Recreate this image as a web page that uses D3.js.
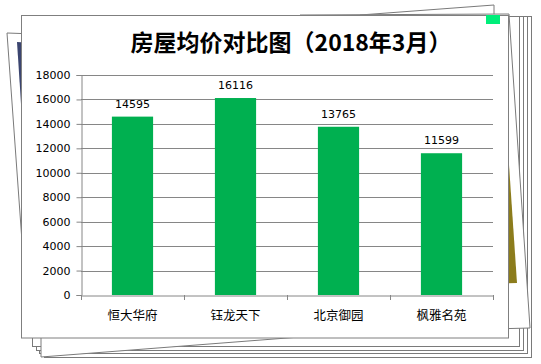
<!DOCTYPE html>
<html>
<head>
<meta charset="utf-8">
<script src="https://cdn.jsdelivr.net/npm/d3@7"></script>
<style>
  body { margin: 0; background: #fff; }
  svg { display: block; }
</style>
</head>
<body>
<svg id="chart" width="541" height="364"></svg>
<script>
// chart data
const categories = ["恒大华府", "钰龙天下", "北京御园", "枫雅名苑"];
const prices = [14595, 16116, 13765, 11599];
const yTicks = [0, 2000, 4000, 6000, 8000, 10000, 12000, 14000, 16000, 18000];
const titleText = "房屋均价对比图（2018年3月）";

const svg = d3.select("#chart");
const plot = { left: 81, right: 493, top: 75, bottom: 295 };
const cjk = "'Noto Sans CJK SC', sans-serif";
const num = "'DejaVu Sans', sans-serif";

// --- stacked paper decoration behind the card ---
const deco = svg.append("g").attr("fill", "#fff").attr("stroke", "#7a7a7a").attr("stroke-width", 1);

// flat sheets peeking out bottom/right
const sheets = [
  { l: 44, r: 531, b: 357 },
  { l: 39, r: 527, b: 353 },
  { l: 36, r: 523, b: 350 },
  { l: 32, r: 519, b: 346 }
];
sheets.forEach(s => {
  deco.append("rect").attr("x", s.l + 0.5).attr("y", 16.5)
    .attr("width", s.r - s.l).attr("height", s.b - 16);
});
// slightly turned sheet at bottom-left
deco.append("polygon").attr("points", "41,150 300,130 300,337 41,357");

// left sheet with a dark picture
deco.append("polygon").attr("points", "7,33 260,42 260,325 28,325");
deco.append("polygon").attr("points", "17,42 120,48 120,200 24,150")
  .attr("stroke", "none").attr("fill", "#3b4570");

// top sheet corner
deco.append("polygon").attr("points", "360,15 494,5 494,60 360,60");

// right sheet with olive picture
deco.append("polygon").attr("points", "300,15 509,14 530,328 300,334");
deco.append("polygon").attr("points", "450,150 508,150 517,283 450,285")
  .attr("stroke", "none").attr("fill", "#8c7c1c");

// --- card ---
svg.append("rect").attr("x", 21.5).attr("y", 15.5).attr("width", 487).attr("height", 322.5)
  .attr("fill", "#fff").attr("stroke", "#7f7f7f");
svg.append("rect").attr("x", 486).attr("y", 15).attr("width", 14).attr("height", 9)
  .attr("fill", "#00ee7a");

// --- title ---
svg.append("text").attr("x", 291).attr("y", 51)
  .attr("text-anchor", "middle").attr("font-family", cjk).attr("font-size", 23)
  .attr("font-weight", "bold").attr("fill", "#000")
  .text(titleText);

// --- scales ---
const x = d3.scaleBand().domain(categories).range([plot.left, plot.right])
  .paddingInner(0.6).paddingOuter(0.3);
const y = d3.scaleLinear().domain([0, 18000]).range([plot.bottom, plot.top]);

// gridlines
svg.append("g").selectAll("line").data(yTicks.filter(d => d > 0)).join("line")
  .attr("x1", plot.left).attr("x2", plot.right)
  .attr("y1", d => Math.round(y(d)) + 0.5).attr("y2", d => Math.round(y(d)) + 0.5)
  .attr("stroke", "#868686");

// y axis
const yAxis = svg.append("g").attr("transform", `translate(${plot.left + 0.5},0)`)
  .call(d3.axisLeft(y).tickValues(yTicks).tickSize(5).tickPadding(6).tickFormat(d3.format("d")));
yAxis.select(".domain").attr("stroke", "#868686");
yAxis.selectAll(".tick line").attr("stroke", "#868686");
yAxis.selectAll(".tick text").attr("font-family", num).attr("font-size", 11).attr("fill", "#000");

// x axis
const xAxis = svg.append("g").attr("transform", `translate(0,${plot.bottom + 0.5})`)
  .call(d3.axisBottom(x).tickSize(0).tickPadding(16));
xAxis.select(".domain").attr("stroke", "#868686");
xAxis.selectAll(".tick text").attr("font-family", cjk).attr("font-size", 12.5).attr("fill", "#000");
// category separators
const bounds = categories.map((c, i) => plot.left + i * x.step());
bounds.push(plot.right);
svg.append("g").selectAll("line").data(bounds).join("line")
  .attr("x1", d => Math.round(d) + 0.5).attr("x2", d => Math.round(d) + 0.5)
  .attr("y1", plot.bottom).attr("y2", plot.bottom + 5)
  .attr("stroke", "#868686");

// bars
svg.append("g").selectAll("rect").data(prices).join("rect")
  .attr("x", (d, i) => x(categories[i]))
  .attr("y", d => y(d))
  .attr("width", x.bandwidth())
  .attr("height", d => y(0) - y(d))
  .attr("fill", "#00b050");

// value labels
svg.append("g").selectAll("text").data(prices).join("text")
  .attr("x", (d, i) => x(categories[i]) + x.bandwidth() / 2)
  .attr("y", d => y(d) - 9)
  .attr("text-anchor", "middle")
  .attr("font-family", num).attr("font-size", 11).attr("fill", "#000")
  .text(d => d);
</script>
</body>
</html>
